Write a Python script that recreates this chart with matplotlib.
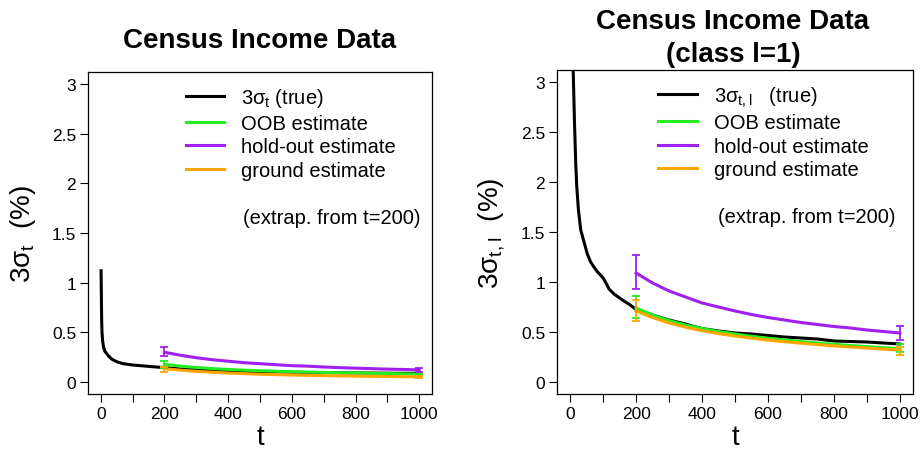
"""Census income data: 3-sigma variability curves vs number of trees t."""

import matplotlib
matplotlib.use('Agg')
import matplotlib.pyplot as plt

plt.rcParams['font.family'] = ['Liberation Sans', 'DejaVu Sans']
plt.rcParams['mathtext.default'] = 'regular'

COLORS = {
    "true": "#000000",
    "oob": "#22ee22",
    "holdout": "#a020f0",
    "ground": "#ffa500",
}

# ---- left panel (all classes) ----
left_true_t = [1, 2, 3, 4, 6, 9, 13, 19, 25, 35, 50, 70, 100, 150, 200,
               250, 300, 400, 500, 600, 700, 800, 900, 1000]
left_true = [1.12, 0.85, 0.60, 0.50, 0.41, 0.35, 0.31, 0.285, 0.26, 0.23,
             0.205, 0.185, 0.172, 0.158, 0.145, 0.132, 0.123, 0.112, 0.105,
             0.099, 0.095, 0.092, 0.089, 0.087]

est_t = [200, 250, 300, 350, 400, 450, 500, 550, 600, 650, 700, 750, 800,
         850, 900, 950, 1000]
left_oob = [0.180, 0.160, 0.147, 0.136, 0.127, 0.120, 0.114, 0.109, 0.104,
            0.100, 0.097, 0.094, 0.091, 0.088, 0.086, 0.083, 0.081]
left_holdout = [0.300, 0.270, 0.245, 0.225, 0.210, 0.195, 0.185, 0.175, 0.165,
                0.160, 0.152, 0.145, 0.140, 0.135, 0.130, 0.127, 0.123]
left_ground = [0.135, 0.120, 0.108, 0.099, 0.091, 0.085, 0.079, 0.075, 0.071,
               0.068, 0.065, 0.062, 0.060, 0.058, 0.056, 0.054, 0.052]

err_t = [200, 1000]
left_oob_lo, left_oob_hi = [0.14, 0.07], [0.21, 0.09]
left_holdout_lo, left_holdout_hi = [0.26, 0.10], [0.35, 0.14]
left_ground_lo, left_ground_hi = [0.105, 0.04], [0.155, 0.06]

# ---- right panel (class l=1) ----
right_true_t = [6, 8, 10, 13, 17, 20, 25, 32, 42, 52, 62, 72, 83, 92, 100,
                110, 118, 133, 150, 163, 180, 198, 225, 250, 275, 300, 325,
                350, 375, 400, 450, 500, 550, 600, 650, 700, 750, 800, 850,
                900, 950, 1000]
right_true = [4.0, 3.3, 3.0, 2.6, 2.17, 1.95, 1.72, 1.52, 1.40, 1.28, 1.20,
              1.15, 1.10, 1.07, 1.04, 0.98, 0.93, 0.88, 0.84, 0.81, 0.775,
              0.73, 0.70, 0.67, 0.645, 0.62, 0.60, 0.58, 0.555, 0.535, 0.51,
              0.49, 0.48, 0.465, 0.45, 0.44, 0.43, 0.41, 0.405, 0.40, 0.39,
              0.38]
right_oob = [0.740, 0.670, 0.615, 0.570, 0.535, 0.505, 0.480, 0.457, 0.438,
             0.421, 0.405, 0.390, 0.377, 0.365, 0.354, 0.343, 0.333]
right_holdout = [1.09, 0.99, 0.91, 0.85, 0.79, 0.75, 0.71, 0.675, 0.645,
                 0.62, 0.595, 0.575, 0.555, 0.54, 0.52, 0.505, 0.49]
right_ground = [0.710, 0.645, 0.590, 0.548, 0.513, 0.484, 0.460, 0.438, 0.419,
                0.403, 0.388, 0.374, 0.361, 0.350, 0.339, 0.329, 0.320]

right_oob_lo, right_oob_hi = [0.64, 0.30], [0.86, 0.38]
right_holdout_lo, right_holdout_hi = [0.93, 0.42], [1.27, 0.56]
right_ground_lo, right_ground_hi = [0.61, 0.27], [0.82, 0.35]

x_ticks = list(range(0, 1001, 100))
x_labels = [str(v) if v % 200 == 0 else "" for v in x_ticks]
y_ticks = [0, 0.5, 1, 1.5, 2, 2.5, 3]
y_labels = ["0", "0.5", "1", "1.5", "2", "2.5", "3"]


def _errbar(ax, lo, hi, color):
    mid = [(a + b) / 2 for a, b in zip(lo, hi)]
    err = [[m - a for m, a in zip(mid, lo)], [b - m for m, b in zip(mid, hi)]]
    ax.errorbar(err_t, mid, yerr=err, fmt='none', ecolor=color,
                elinewidth=1.3, capsize=3, capthick=1.3, zorder=4)


def _panel(ax, true_t, true_v, oob, holdout, ground, errs, true_label, ylabel):
    ax.plot(true_t, true_v, color=COLORS["true"], lw=2.2, label=true_label, zorder=3)
    ax.plot(est_t, oob, color=COLORS["oob"], lw=2.2, label="OOB estimate", zorder=3)
    ax.plot(est_t, holdout, color=COLORS["holdout"], lw=2.2,
            label="hold-out estimate", zorder=3)
    ax.plot(est_t, ground, color=COLORS["ground"], lw=2.2,
            label="ground estimate", zorder=3)
    for (lo, hi), c in zip(errs, ["oob", "holdout", "ground"]):
        _errbar(ax, lo, hi, COLORS[c])

    ax.set_xlim(-40, 1040)
    ax.set_ylim(-0.12, 3.12)
    ax.set_xticks(x_ticks)
    ax.set_xticklabels(x_labels)
    ax.set_yticks(y_ticks)
    ax.set_yticklabels(y_labels)
    ax.tick_params(direction='out', length=5.5, width=0.8, labelsize=12.5, pad=3)
    for spine in ax.spines.values():
        spine.set_linewidth(0.9)

    ax.set_xlabel("t", fontsize=20, labelpad=2)
    ax.set_ylabel(ylabel, fontsize=20, labelpad=10)

    ax.legend(loc='upper left', bbox_to_anchor=(0.285, 0.955), frameon=False,
              fontsize=14.5, handlelength=1.9, handletextpad=0.85,
              labelspacing=0.22, borderpad=0, borderaxespad=0)
    ax.text(0.452, 0.547, "(extrap. from t=200)", transform=ax.transAxes,
            fontsize=14.5, va='center', ha='left')


fig = plt.figure(figsize=(9.24, 4.6), dpi=100)
ax1 = fig.add_axes([88 / 924, 65 / 460, 344 / 924, 322 / 460])
ax2 = fig.add_axes([557 / 924, 65 / 460, 356 / 924, 324 / 460])

_panel(ax1, left_true_t, left_true, left_oob, left_holdout, left_ground,
       [(left_oob_lo, left_oob_hi), (left_holdout_lo, left_holdout_hi),
        (left_ground_lo, left_ground_hi)],
       "3σ$_t$ (true)", "3σ$_t$  (%)")
_panel(ax2, right_true_t, right_true, right_oob, right_holdout, right_ground,
       [(right_oob_lo, right_oob_hi), (right_holdout_lo, right_holdout_hi),
        (right_ground_lo, right_ground_hi)],
       "3σ$_{t,l}$   (true)", "3σ$_{t,l}$  (%)")

fig.text(260 / 924, 1 - 41 / 460, "Census Income Data", ha='center',
         va='center', fontsize=20, fontweight='bold')
fig.text(733 / 924, 1 - 22 / 460, "Census Income Data", ha='center',
         va='center', fontsize=20, fontweight='bold')
fig.text(733 / 924, 1 - 55 / 460, "(class l=1)", ha='center',
         va='center', fontsize=20, fontweight='bold')

fig.savefig("out.png", dpi=100, facecolor="white")
